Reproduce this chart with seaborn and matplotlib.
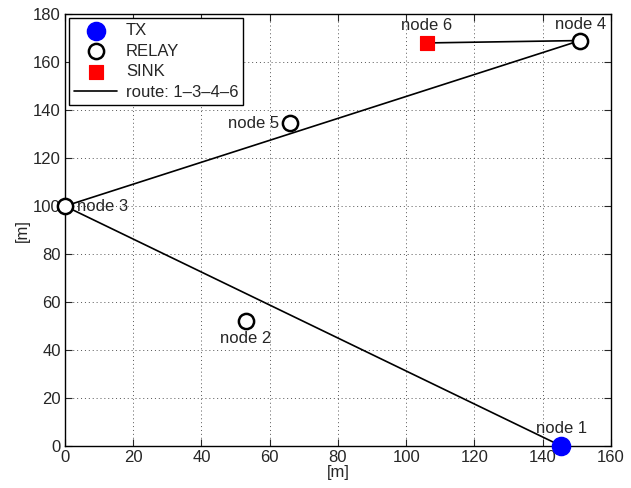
import matplotlib
matplotlib.use("Agg")
import matplotlib.pyplot as plt
import seaborn as sns
import pandas as pd

node_names = ["node 1", "node 2", "node 3", "node 4", "node 5", "node 6"]
node_x = [145.5, 53, 0, 151, 66, 106]
node_y = [0, 52, 100, 169, 134.5, 168]
node_role = ["TX", "RELAY", "RELAY", "RELAY", "RELAY", "SINK"]
route = [1, 3, 4, 6]
x_ticks = [0, 20, 40, 60, 80, 100, 120, 140, 160]
y_ticks = [0, 20, 40, 60, 80, 100, 120, 140, 160, 180]

sns.set_style("ticks")
plt.rcParams['font.family'] = ['Liberation Sans', 'DejaVu Sans']

df = pd.DataFrame({"name": node_names, "x": node_x, "y": node_y, "role": node_role})
route_df = df.iloc[[r - 1 for r in route]].reset_index(drop=True)

fig = plt.figure(figsize=(6.31, 4.88), dpi=100)
ax = fig.add_axes([0.103, 0.086, 0.865, 0.885])

sns.lineplot(data=route_df, x="x", y="y", sort=False, color="black", lw=1.2,
             ax=ax, label="route: 1\u20133\u20134\u20136", zorder=2, estimator=None)

tx = df[df.role == "TX"]
relay = df[df.role == "RELAY"]
sink = df[df.role == "SINK"]
sns.scatterplot(data=tx, x="x", y="y", marker="o", s=170, color="#0000ff",
                edgecolor="#0000ff", ax=ax, label="TX", zorder=3, clip_on=False)
sns.scatterplot(data=relay, x="x", y="y", marker="o", s=120, facecolor="white",
                edgecolor="black", linewidth=1.8, ax=ax, label="RELAY", zorder=3, clip_on=False)
sns.scatterplot(data=sink, x="x", y="y", marker="s", s=105, color="#ff0000",
                edgecolor="#ff0000", ax=ax, label="SINK", zorder=3, clip_on=False)

offsets = {
    "node 1": (0, 7, "center", "bottom"),
    "node 2": (0, -7, "center", "top"),
    "node 3": (9, 0, "left", "center"),
    "node 4": (0, 6, "center", "bottom"),
    "node 5": (-8, 0, "right", "center"),
    "node 6": (0, 7, "center", "bottom"),
}
for _, r in df.iterrows():
    dx, dy, ha, va = offsets[r["name"]]
    ax.annotate(r["name"], (r["x"], r["y"]), xytext=(dx, dy), textcoords="offset points",
                ha=ha, va=va, fontsize=12)

ax.set_xlim(0, 160)
ax.set_ylim(0, 180)
ax.set_xticks(x_ticks)
ax.set_yticks(y_ticks)
ax.tick_params(direction="in", top=True, right=True, labelsize=12, length=5, pad=3)
ax.grid(True, linestyle=(0, (1, 3)), color="#555555", linewidth=0.7)
for s in ax.spines.values():
    s.set_visible(True)
    s.set_color("black")
    s.set_linewidth(1)
ax.set_xlabel("[m]", fontsize=12, labelpad=0)
ax.set_ylabel("[m]", fontsize=12, labelpad=2)

h, l = ax.get_legend_handles_labels()
order = [l.index(k) for k in ["TX", "RELAY", "SINK", "route: 1\u20133\u20134\u20136"]]
leg = ax.legend([h[i] for i in order], [l[i] for i in order], loc="upper left",
                fontsize=12, fancybox=False, framealpha=1, edgecolor="black",
                borderaxespad=0.25, handlelength=2.6, labelspacing=0.33,
                borderpad=0.3, handletextpad=0.5)
leg.get_frame().set_linewidth(1)

fig.savefig("out.png", dpi=100)
